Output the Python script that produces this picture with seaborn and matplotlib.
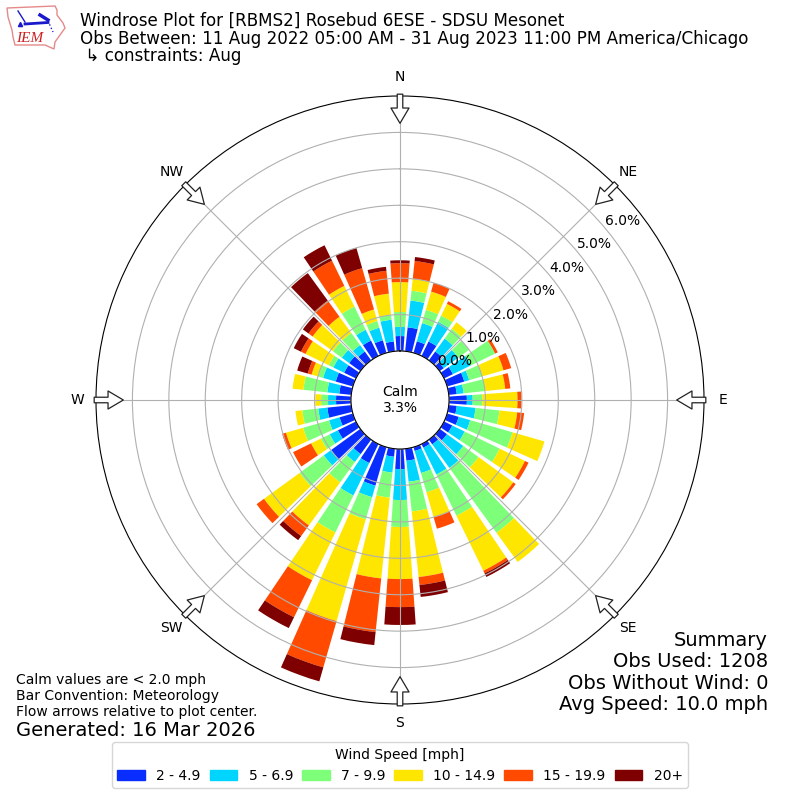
import numpy as np
import pandas as pd
import matplotlib
matplotlib.use('Agg')
import matplotlib.pyplot as plt
from matplotlib.patches import Patch, Polygon
import seaborn as sns

directions = [0, 10, 20, 30, 40, 50, 60, 70, 80, 90, 100, 110,
              120, 130, 140, 150, 160, 170, 180, 190, 200, 210, 220, 230,
              240, 250, 260, 270, 280, 290, 300, 310, 320, 330, 340, 350]

# percent of observations per direction, one list per speed bin
speed_2_5 = [.41, .66, .33, .44, .30, .14, .27, .49, .22, .49, .22, .33,
             .25, .25, .16, .11, .11, .33, .55, .22, 1.10, .58, .49, .99,
             .55, .38, .66, .41, .33, .49, .36, .38, .30, .47, .36, .27]
speed_5_7 = [.25, .74, .52, .60, .44, .49, .55, .14, .19, .16, .52, .33,
             .38, .55, .80, .82, .63, .58, .85, .44, .33, .99, .27, .25,
             .25, .30, .25, .22, .33, .36, .33, .25, .22, .33, .36, .60]
speed_7_10 = [.41, .27, .38, .19, .33, .36, .74, .38, .60, .27, .66, 1.21,
              1.07, .52, 2.20, 1.26, .55, .82, .74, .69, .63, 1.13, .69, .82,
              .27, .74, .44, .19, .66, .14, .14, .30, .41, .71, .19, .14]
speed_10_15 = [.82, .33, .52, .36, .22, 0, 0, .60, .55, .96, .49, .91,
               .77, 1.18, .99, 1.68, .71, 1.81, 1.43, 2.23, 2.91, 1.46, 1.46, 1.21,
               .30, .49, .19, .16, .30, .19, .71, .69, .55, .63, .33, .58]
speed_15_20 = [.52, .49, .25, .08, 0, 0, .08, .22, .14, .11, .19, 0,
               .11, .08, 0, .08, .33, .22, .77, 1.48, 1.32, 1.13, .36, .25,
               .55, .11, 0, 0, 0, .11, .14, .14, .55, .77, 1.18, .63]
speed_20 = [.08, .11, 0, 0, 0, 0, 0, 0, 0, 0, 0, 0,
            0, 0, 0, .11, 0, .33, .49, .36, .40, .33, .14, 0,
            0, 0, 0, 0, 0, .30, .22, .19, .93, .47, .58, .11]

speed_labels = ['2 - 4.9', '5 - 6.9', '7 - 9.9', '10 - 14.9', '15 - 19.9', '20+']
speed_colors = ['#0a2dff', '#00d5ff', '#7dff7a', '#ffe600', '#ff4a00', '#7f0000']
compass_angles = [0, 45, 90, 135, 180, 225, 270, 315]
compass_labels = ['N', 'NE', 'E', 'SE', 'S', 'SW', 'W', 'NW']
radial_ticks = [0, 1, 2, 3, 4, 5, 6]

speed_bins = [speed_2_5, speed_5_7, speed_7_10, speed_10_15, speed_15_20, speed_20]

fig = plt.figure(figsize=(8, 8), dpi=100)
ax = fig.add_axes([0.12, 0.12, 0.76, 0.76], projection='polar')
ax.set_theta_zero_location('N')
ax.set_theta_direction(-1)

theta = np.deg2rad(directions)
bottom = np.zeros(len(directions))
for values, color in zip(speed_bins, speed_colors):
    df = pd.DataFrame({'theta': theta, 'pct': values})
    sns.barplot(data=df, x='theta', y='pct', native_scale=True, color=color,
                saturation=1, errorbar=None, bottom=bottom, linewidth=0,
                legend=False, ax=ax)
    bottom = bottom + np.array(values)

ax.set(xlabel='', ylabel='')
ax.set_rorigin(-1.346)
ax.set_rmin(0)
ax.set_rmax(7)
ax.set_rgrids(radial_ticks, [f'{r:.1f}%' for r in radial_ticks], angle=50)
ax.set_thetagrids(compass_angles, compass_labels)
ax.tick_params(axis='x', pad=3)
ax.tick_params(axis='y', labelsize=10)

# flow arrows around the rim
for ang in compass_angles:
    ax.annotate('', xy=(np.deg2rad(ang), 6.25), xytext=(np.deg2rad(ang), 7.05),
                annotation_clip=False,
                arrowprops=dict(facecolor='white', edgecolor='#222222', linewidth=0.9,
                                width=4, headwidth=13, headlength=11))

ax.text(0.5, 0.5, 'Calm\n3.3%', transform=ax.transAxes, ha='center', va='center',
        fontsize=10)

handles = [Patch(color=c, label=l) for c, l in zip(speed_colors, speed_labels)]
fig.legend(handles=handles, title='Wind Speed [mph]', ncol=6, fontsize=10,
           title_fontsize=10, columnspacing=0.65, loc='lower center',
           bbox_to_anchor=(0.5, 0.006))

fig.text(0.1, 0.9735, 'Windrose Plot for [RBMS2] Rosebud 6ESE - SDSU Mesonet',
         fontsize=12.05, va='center')
fig.text(0.1, 0.9515, 'Obs Between: 11 Aug 2022 05:00 AM - 31 Aug 2023 11:00 PM America/Chicago',
         fontsize=12.05, va='center')
fig.text(0.1, 0.93, ' ↳ constraints: Aug', fontsize=12.05, va='center')

fig.text(0.02, 0.15, 'Calm values are < 2.0 mph', fontsize=10, va='center')
fig.text(0.02, 0.13, 'Bar Convention: Meteorology', fontsize=10, va='center')
fig.text(0.02, 0.11, 'Flow arrows relative to plot center.', fontsize=10, va='center')
fig.text(0.02, 0.0875, 'Generated: 16 Mar 2026', fontsize=14, va='center')

fig.text(0.96, 0.2, 'Summary', fontsize=14, ha='right', va='center')
fig.text(0.96, 0.173, 'Obs Used: 1208', fontsize=14, ha='right', va='center')
fig.text(0.96, 0.146, 'Obs Without Wind: 0', fontsize=14, ha='right', va='center')
fig.text(0.96, 0.119, 'Avg Speed: 10.0 mph', fontsize=14, ha='right', va='center')

# rough version of the IEM logo, pixel coordinates
logo = fig.add_axes([0, 0, 1, 1], facecolor='none')
logo.set_xlim(0, 800)
logo.set_ylim(800, 0)
logo.axis('off')
logo.add_patch(Polygon([(7, 8), (55, 6), (57, 10), (57, 15), (63, 23), (65, 28), (60, 35),
                        (55, 42), (54, 49), (45, 45), (15, 45), (13, 37), (12, 30), (8, 17)],
                       closed=True, fill=False, edgecolor='#e58a8a', linewidth=1))
logo.plot([25, 48], [24, 22.5], color='#1a1acc', lw=2)
logo.plot([18, 25], [11, 22], color='#1a1acc', lw=1)
logo.plot([40, 48], [15, 20], color='#1a1acc', lw=2.5)
logo.plot([48, 53], [21, 32], color='#1a1acc', lw=1, ls=':')
logo.plot([20], [24], marker='^', ms=3, color='#1a1acc')
logo.text(30, 38.5, 'IEM', color='#cc2222', fontsize=11, family='Liberation Serif',
          style='italic', ha='center', va='center')

fig.savefig('out.png', dpi=100)
